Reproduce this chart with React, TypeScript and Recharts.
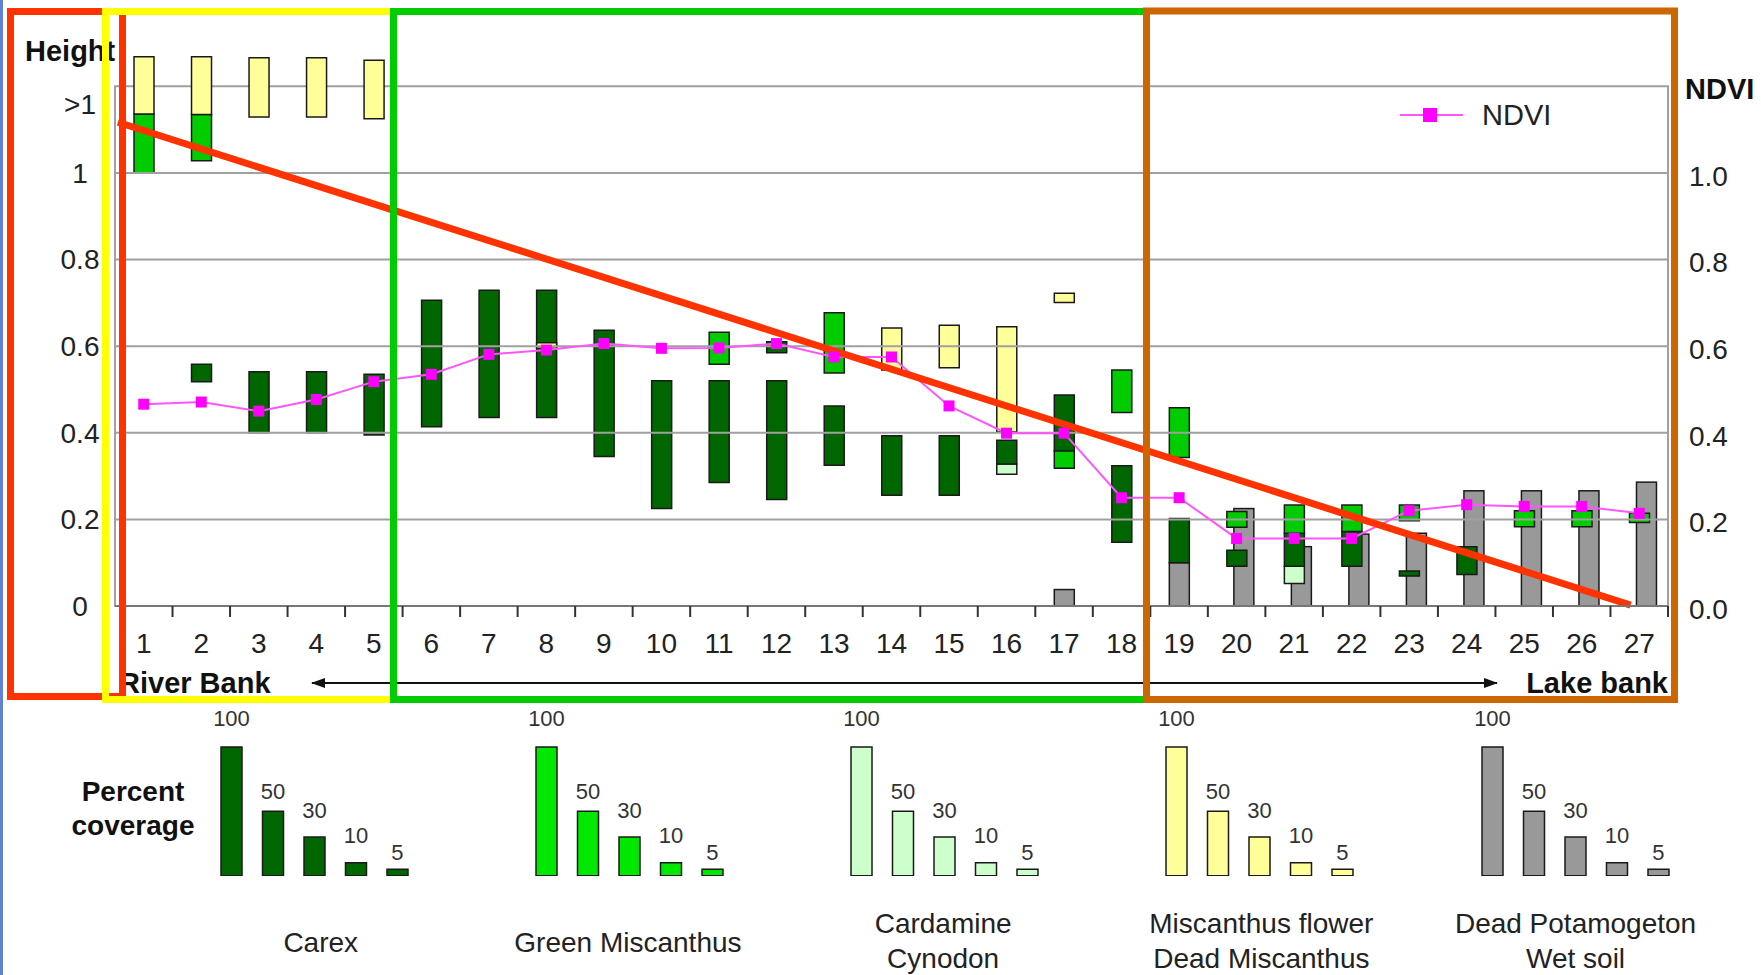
import React from 'react';
import {
  ComposedChart,
  BarChart,
  Bar,
  Line,
  XAxis,
  YAxis,
  ReferenceArea,
  ReferenceLine,
  Legend,
  LabelList,
} from 'recharts';

type Range = [number, number] | null;

const FONT = '"Liberation Sans", Arial, Helvetica, sans-serif';

// Sampling stations along the transect, river bank (1) to lake bank (27)
const stations = [1, 2, 3, 4, 5, 6, 7, 8, 9, 10, 11, 12, 13, 14, 15, 16, 17, 18, 19, 20, 21, 22, 23, 24, 25, 26, 27];

// Height span [bottom, top] occupied by each cover type at each station
const carex: Range[] = [
  null, [0.518, 0.558], [0.4, 0.541], [0.4, 0.541], [0.395, 0.535], [0.414, 0.706], [0.435, 0.729],
  [0.435, 0.729], [0.345, 0.637], [0.225, 0.52], [0.285, 0.52], [0.246, 0.52], [0.325, 0.462],
  [0.256, 0.393], [0.256, 0.393], [0.328, 0.383], [0.358, 0.487], [0.147, 0.324], [0.1, 0.202],
  [0.092, 0.129], [0.092, 0.168], [0.092, 0.172], [0.069, 0.081], [0.073, 0.137], null, null, null,
];

const carexUpper: Range[] = [
  null, null, null, null, null, null, null, null, null, null, null, [0.585, 0.61], null, null,
  null, null, null, null, null, null, null, null, null, null, null, null, null,
];

const greenMiscanthus: Range[] = [
  [1.0, 1.136], [1.028, 1.135], null, null, null, null, null, null, null, null, [0.558, 0.632], null,
  [0.538, 0.677], null, null, null, [0.318, 0.358], [0.447, 0.545], [0.343, 0.458], [0.182, 0.218],
  [0.168, 0.233], [0.172, 0.233], [0.197, 0.233], null, [0.183, 0.22], [0.183, 0.22], [0.193, 0.214],
];

const cardamine: Range[] = [
  null, null, null, null, null, null, null, null, null, null, null, null, null, null, null,
  [0.304, 0.328], null, null, null, null, [0.052, 0.092], null, null, null, null, null, null,
];

const miscanthusFlower: Range[] = [
  [1.136, 1.268], [1.135, 1.268], [1.129, 1.266], [1.129, 1.266], [1.125, 1.26], null, null,
  [0.595, 0.608], null, null, null, null, null, [0.545, 0.642], [0.55, 0.648], [0.402, 0.645],
  [0.701, 0.722], null, null, null, null, null, null, null, null, null, null,
];

const wetSoil: Range[] = [
  null, null, null, null, null, null, null, null, null, null, null, null, null, null, null, null,
  [0, 0.038], null, [0, 0.1], [0, 0.225], [0, 0.137], [0, 0.166], [0, 0.168], [0, 0.266], [0, 0.266],
  [0, 0.266], [0, 0.286],
];

const ndvi = [
  0.466, 0.471, 0.45, 0.477, 0.518, 0.535, 0.581, 0.591, 0.606, 0.595, 0.596, 0.606, 0.575, 0.575,
  0.462, 0.399, 0.399, 0.25, 0.25, 0.156, 0.156, 0.156, 0.22, 0.234, 0.23, 0.23, 0.214,
];

const heightTicks = [0, 0.2, 0.4, 0.6, 0.8, 1, 1.2];
const ndviTicks = [0, 0.2, 0.4, 0.6, 0.8, 1.0];
const gridValues = [0.2, 0.4, 0.6, 0.8, 1.0];
// Station numbers at the centres, tick marks on the boundaries between stations
const stationAxisTicks = stations.flatMap((s) => [s, s + 0.5]);

// Hand-drawn trend across the transect, in (station, height) units
const trendStart = { x: 0.55, y: 1.117 };
const trendEnd = { x: 26.85, y: 0.002 };

// Percent-coverage key
const coverageLevels = [100, 50, 30, 10, 5];
const coverageNames = [
  ['Carex'],
  ['Green Miscanthus'],
  ['Cardamine', 'Cynodon'],
  ['Miscanthus flower', 'Dead Miscanthus'],
  ['Dead Potamogeton', 'Wet soil'],
];

const COLORS = {
  carex: '#006600',
  green: '#00CC00',
  greenKey: '#00E800',
  cardamine: '#CCFFCC',
  flower: '#FFFF99',
  soil: '#999999',
  ndviLine: '#FF55FF',
  ndviDot: '#FF00FF',
  grid: '#A0A0A0',
};
const keyColors = [COLORS.carex, COLORS.greenKey, COLORS.cardamine, COLORS.flower, COLORS.soil];
const keyTitleOffsets = [110, 102, 102, 105, 104];
const keyLabelLift: Record<number, number> = { 100: 21, 50: 12, 30: 19, 10: 20, 5: 9 };

const rows = stations.map((s, i) => ({
  station: s,
  carex: carex[i],
  carexUpper: carexUpper[i],
  greenMiscanthus: greenMiscanthus[i],
  cardamine: cardamine[i],
  miscanthusFlower: miscanthusFlower[i],
  wetSoil: wetSoil[i],
  ndvi: ndvi[i],
}));

const levelRows = coverageLevels.map((v) => ({ level: String(v), pct: v }));

const BOX_STROKE = '#1a1a1a';

const HeightTick = (p: any) => {
  const v = p.payload.value;
  const top = v >= 1.2;
  return (
    <text x={p.x} y={p.y + (top ? 18 : 0)} dy="0.35em" textAnchor="middle" fontSize={28} fill="#222" fontFamily={FONT}>
      {top ? '>1' : String(v)}
    </text>
  );
};

const NdviTick = (p: any) => (
  <text x={p.x} y={p.y + 3} dy="0.35em" textAnchor="start" fontSize={28} fill="#222" fontFamily={FONT}>
    {Number(p.payload.value).toFixed(1)}
  </text>
);

const StationTick = (p: any) => {
  const v = Number(p.payload.value);
  if (Number.isInteger(v)) {
    return (
      <text x={p.x} y={p.y + 47} textAnchor="middle" fontSize={28} fill="#222" fontFamily={FONT}>
        {v}
      </text>
    );
  }
  return <line x1={p.x} x2={p.x} y1={p.y} y2={p.y + 11} stroke="#333" strokeWidth={2} />;
};

// Dead material sits slightly to the right of the living cover where both occur
const SoilShape = (p: any) => {
  if (!p.height || !p.width) return null;
  const shift = p.payload && p.payload.station >= 20 ? 7 : 0;
  return (
    <rect x={p.x + shift} y={p.y} width={p.width} height={p.height} fill={COLORS.soil} stroke={BOX_STROKE} strokeWidth={1.5} />
  );
};

const SquareDot = (p: any) => {
  if (p.cx == null || p.cy == null) return null;
  return <rect key={`d-${p.index}`} x={p.cx - 5.5} y={p.cy - 5.5} width={11} height={11} fill={COLORS.ndviDot} />;
};

const NdviKey = () => (
  <svg width={200} height={34} style={{ display: 'block' }}>
    <line x1={5} x2={68} y1={15} y2={15} stroke={COLORS.ndviLine} strokeWidth={2} />
    <rect x={28} y={8} width={14} height={14} fill={COLORS.ndviDot} />
    <text x={87} y={25} fontSize={29} fill="#222" fontFamily={FONT}>NDVI</text>
  </svg>
);

const LevelLabel = (p: any) => {
  const lift = keyLabelLift[Number(p.value)] ?? 14;
  return (
    <text x={p.x + p.width / 2} y={p.y - lift} textAnchor="middle" fontSize={22} fill="#333" fontFamily={FONT}>
      {p.value}
    </text>
  );
};

function CoverageKey({ index }: { index: number }) {
  const left = 210.75 + 315.2 * index;
  return (
    <div style={{ position: 'absolute', left, top: 707 }}>
      <BarChart width={207.5} height={168.7} data={levelRows} margin={{ top: 40, right: 0, bottom: 0, left: 0 }}>
        <XAxis dataKey="level" hide />
        <YAxis hide domain={[0, 100]} />
        <Bar dataKey="pct" barSize={21} fill={keyColors[index]} stroke={BOX_STROKE} strokeWidth={1.5} isAnimationActive={false}>
          <LabelList dataKey="pct" content={LevelLabel} />
        </Bar>
      </BarChart>
    </div>
  );
}

export default function App() {
  const rangeBars: { key: string; fill: string }[] = [
    { key: 'cardamine', fill: COLORS.cardamine },
    { key: 'carex', fill: COLORS.carex },
    { key: 'carexUpper', fill: COLORS.carex },
    { key: 'greenMiscanthus', fill: COLORS.green },
    { key: 'miscanthusFlower', fill: COLORS.flower },
  ];

  return (
    <div style={{ position: 'absolute', left: 0, top: 0, width: 1761, height: 975, background: '#fff', fontFamily: FONT, overflow: 'hidden' }}>
      <div style={{ position: 'absolute', left: 0, top: 0 }}>
        <ComposedChart width={1761} height={700} data={rows} margin={{ top: 43, right: 13, bottom: 34, left: 15 }}>
          <XAxis
            xAxisId="station"
            dataKey="station"
            type="number"
            domain={[0.5, 27.5]}
            allowDataOverflow
            ticks={stationAxisTicks}
            interval={0}
            tick={<StationTick />}
            tickLine={false}
            tickSize={0}
            tickMargin={0}
            axisLine={{ stroke: '#777', strokeWidth: 2 }}
            height={60}
          />
          {/* one hidden band axis per cover type so overlapping spans share a column */}
          <XAxis xAxisId="soil" dataKey="station" hide height={0} />
          {rangeBars.map((b) => (
            <XAxis key={b.key} xAxisId={b.key} dataKey="station" hide height={0} />
          ))}
          <YAxis
            yAxisId="h"
            orientation="left"
            width={100}
            type="number"
            domain={[0, 1.3]}
            allowDataOverflow
            ticks={heightTicks}
            interval={0}
            tickLine={false}
            axisLine={false}
            tickSize={0}
            tickMargin={35}
            tick={<HeightTick />}
          />
          <YAxis
            yAxisId="ndvi"
            orientation="right"
            width={80}
            type="number"
            domain={[0, 1.3]}
            allowDataOverflow
            ticks={ndviTicks}
            interval={0}
            tickLine={false}
            axisLine={false}
            tickSize={0}
            tickMargin={21}
            tick={<NdviTick />}
          />
          {gridValues.map((v) => (
            <ReferenceLine key={v} xAxisId="station" yAxisId="h" y={v} stroke={COLORS.grid} strokeWidth={2} />
          ))}
          <ReferenceArea
            xAxisId="station"
            yAxisId="h"
            x1={0.5}
            x2={27.5}
            y1={0}
            y2={1.2}
            fill="none"
            fillOpacity={0}
            stroke={COLORS.grid}
            strokeWidth={2}
            ifOverflow="visible"
          />

          <Bar xAxisId="soil" yAxisId="h" dataKey="wetSoil" barSize={20} shape={SoilShape} isAnimationActive={false} />
          {rangeBars.map((b) => (
            <Bar
              key={b.key}
              xAxisId={b.key}
              yAxisId="h"
              dataKey={b.key}
              barSize={20}
              fill={b.fill}
              stroke={BOX_STROKE}
              strokeWidth={1.5}
              isAnimationActive={false}
            />
          ))}
          <Line
            xAxisId="station"
            yAxisId="ndvi"
            dataKey="ndvi"
            stroke={COLORS.ndviLine}
            strokeWidth={2}
            dot={SquareDot}
            activeDot={false}
            isAnimationActive={false}
          />
          <ReferenceLine
            xAxisId="station"
            yAxisId="h"
            segment={[trendStart, trendEnd]}
            stroke="#FF3300"
            strokeWidth={7}
            ifOverflow="visible"
          />
          <Legend
            layout="vertical"
            align="center"
            verticalAlign="middle"
            wrapperStyle={{ left: 1395, top: 100, width: 200, height: 34 }}
            content={() => <NdviKey />}
          />
        </ComposedChart>
      </div>

      {coverageNames.map((_, i) => (
        <CoverageKey key={i} index={i} />
      ))}

      <svg width={1761} height={975} style={{ position: 'absolute', left: 0, top: 0, pointerEvents: 'none' }}>
        <defs>
          <marker id="arrowHead" markerWidth="14" markerHeight="10" refX="13" refY="5" orient="auto-start-reverse" markerUnits="userSpaceOnUse">
            <path d="M0,0 L14,5 L0,10 Z" fill="#111" />
          </marker>
        </defs>
        <text x={25} y={61} fontSize={29} fontWeight="bold" fill="#111" fontFamily={FONT}>Height</text>
        <text x={1685} y={99} fontSize={29} fontWeight="bold" fill="#111" fontFamily={FONT}>NDVI</text>

        <text x={119} y={693} fontSize={29} fontWeight="bold" fill="#111" fontFamily={FONT}>River Bank</text>
        <text x={1668} y={693} fontSize={29} fontWeight="bold" fill="#111" fontFamily={FONT} textAnchor="end">Lake bank</text>
        <line x1={312} x2={1497} y1={683} y2={683} stroke="#111" strokeWidth={2} markerStart="url(#arrowHead)" markerEnd="url(#arrowHead)" />

        <text x={133} y={801} fontSize={28} fontWeight="bold" fill="#111" fontFamily={FONT} textAnchor="middle">Percent</text>
        <text x={133} y={835} fontSize={28} fontWeight="bold" fill="#111" fontFamily={FONT} textAnchor="middle">coverage</text>

        {coverageNames.map((lines, i) => {
          const cx = 210.75 + 315.2 * i + keyTitleOffsets[i];
          return lines.length === 1 ? (
            <text key={i} x={cx} y={952} fontSize={28} fill="#222" fontFamily={FONT} textAnchor="middle">{lines[0]}</text>
          ) : (
            <g key={i}>
              <text x={cx} y={933} fontSize={28} fill="#222" fontFamily={FONT} textAnchor="middle">{lines[0]}</text>
              <text x={cx} y={968} fontSize={28} fill="#222" fontFamily={FONT} textAnchor="middle">{lines[1]}</text>
            </g>
          );
        })}

        {/* zone outlines along the transect */}
        <rect x={10.5} y={11.5} width={112} height={685} fill="none" stroke="#FF3300" strokeWidth={7} />
        <rect x={105.5} y={11.5} width={288} height={688} fill="none" stroke="#FFFF00" strokeWidth={7} />
        <rect x={393.5} y={11.5} width={753} height={688} fill="none" stroke="#00CC00" strokeWidth={7} />
        <rect x={1146.5} y={11} width={528} height={688.5} fill="none" stroke="#CC6600" strokeWidth={7} />
        <rect x={0} y={0} width={3} height={975} fill="#5F82D6" />
      </svg>
    </div>
  );
}
